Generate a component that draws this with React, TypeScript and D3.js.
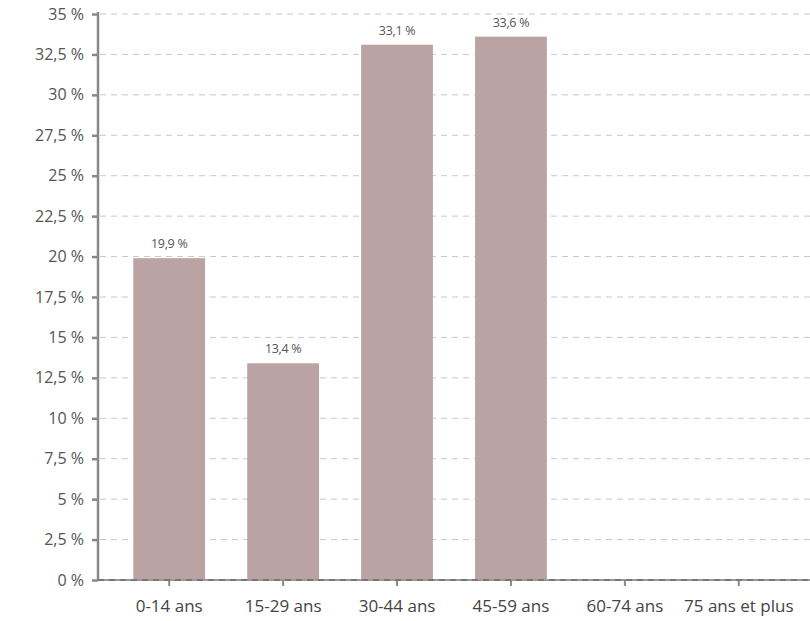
import { useEffect, useRef } from "react";
import * as d3 from "d3";

const categories = ["0-14 ans", "15-29 ans", "30-44 ans", "45-59 ans", "60-74 ans", "75 ans et plus"];
const values = [19.9, 13.4, 33.1, 33.6, 0, 0];
const yTicks = [0, 2.5, 5, 7.5, 10, 12.5, 15, 17.5, 20, 22.5, 25, 27.5, 30, 32.5, 35];

const fmt = (v: number) => String(v).replace(".", ",") + " %";
const FONT = "'Open Sans', Lato, sans-serif";

export default function App() {
  const svgRef = useRef<SVGSVGElement>(null);

  useEffect(() => {
    if (!svgRef.current) return;
    const width = 810;
    const height = 621;
    const svg = d3.select(svgRef.current).attr("width", width).attr("height", height);
    svg.selectAll("*").remove();

    const x = d3.scaleBand<string>()
      .domain(categories)
      .range([98, 810])
      .paddingInner(0.37)
      .paddingOuter(0.31);

    const y = d3.scaleLinear().domain([0, 35]).range([580, 14]);

    // grid
    svg.append("g")
      .selectAll("line")
      .data(yTicks.filter((t) => t > 0))
      .enter()
      .append("line")
      .attr("x1", 100)
      .attr("x2", width)
      .attr("y1", (d) => y(d))
      .attr("y2", (d) => y(d))
      .attr("stroke", "#c8c8c8")
      .attr("stroke-dasharray", "6,5");

    const shown = values.map((v, i) => ({ v, c: categories[i] })).filter((d) => d.v > 0);

    // bars
    svg.append("g")
      .selectAll("rect")
      .data(shown)
      .enter()
      .append("rect")
      .attr("x", (d) => x(d.c)!)
      .attr("width", x.bandwidth())
      .attr("y", (d) => y(d.v))
      .attr("height", (d) => y(0) - y(d.v))
      .attr("fill", "#bba3a3");

    // value labels
    svg.append("g")
      .selectAll("text")
      .data(shown)
      .enter()
      .append("text")
      .attr("x", (d) => x(d.c)! + x.bandwidth() / 2)
      .attr("y", (d) => y(d.v) - 10)
      .attr("text-anchor", "middle")
      .attr("font-family", FONT)
      .attr("font-size", 12.5)
      .attr("letter-spacing", -0.3)
      .attr("fill", "#555")
      .text((d) => fmt(d.v));

    // y axis
    const yAxis = svg.append("g").attr("transform", "translate(98,0)")
      .call(d3.axisLeft(y).tickValues(yTicks).tickSize(6).tickPadding(8).tickFormat((d) => fmt(d as number)));
    yAxis.select(".domain").attr("stroke", "#888").attr("stroke-width", 2.5).attr("d", "M0,12V581");
    yAxis.selectAll(".tick line").attr("stroke", "#888").attr("stroke-width", 2.5);
    yAxis.selectAll(".tick text")
      .attr("font-family", FONT)
      .attr("font-size", 16)
      .attr("fill", "#555");

    // x axis
    const xAxis = svg.append("g").attr("transform", "translate(0,580)")
      .call(d3.axisBottom(x).tickSize(6).tickPadding(14));
    xAxis.select(".domain").attr("stroke", "#999").attr("stroke-width", 2).attr("d", "M98,0H810");
    xAxis.append("line")
      .attr("x1", 98).attr("x2", 810).attr("y1", 0).attr("y2", 0)
      .attr("stroke", "#777").attr("stroke-width", 2).attr("stroke-dasharray", "6,5");
    xAxis.selectAll(".tick line").attr("stroke", "#888").attr("stroke-width", 2);
    xAxis.selectAll(".tick text")
      .attr("font-family", FONT)
      .attr("font-size", 17)
      .attr("fill", "#444");
  }, []);

  return (
    <div style={{ position: "absolute", left: 0, top: 0 }}>
      <svg ref={svgRef} style={{ display: "block" }} />
    </div>
  );
}
